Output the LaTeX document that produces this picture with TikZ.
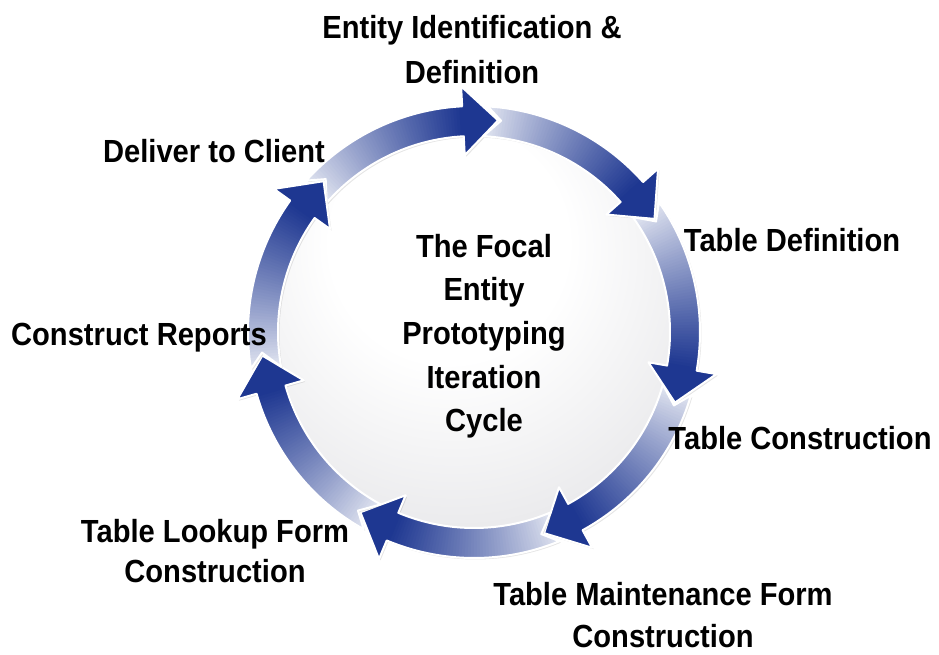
\documentclass[tikz,border=0pt]{standalone}
\usepackage{fontspec}
\newfontfamily\labfont{Liberation Sans}[FakeStretch=0.91]
\definecolor{headc}{RGB}{30,55,145}
\definecolor{tailc}{RGB}{238,240,247}
\definecolor{discgray}{RGB}{206,206,211}
\pgfdeclareradialshading{discshade}{\pgfpoint{-4bp}{14bp}}{color(0bp)=(white); color(15bp)=(white); color(58bp)=(discgray); color(75bp)=(discgray)}
\tikzset{
  lab/.style={font=\labfont\bfseries\fontsize{32}{44}\selectfont, inner sep=0pt, anchor=base, text=black},
  discnode/.style={circle, minimum size=396pt, inner sep=0pt, shading=discshade, draw=white, line width=1.5pt}
}
\begin{document}
\begin{tikzpicture}
\useasboundingbox (-474pt,-322pt) rectangle (465pt,332pt);
\fill[white] (-474pt,-322pt) rectangle (465pt,332pt);
% central disc
\node[discnode] (disc) at (0,0) {};
% arrows
\foreach \k in {0,...,6}{
  \pgfmathsetmacro\angT{83.5-51.4286*\k}
  \pgfmathsetmacro\angB{\angT+9.5}
  \pgfmathsetmacro\angS{\angT+51.4286}
  \pgfmathsetmacro\angO{\angS+3.0}
  \pgfmathsetmacro\angI{\angS+3.8}
  \pgfmathsetmacro\angN{\angS-0.8}
  \pgfmathsetmacro\stp{(\angS+5-\angB)/60}
  \def\apath{(\angO:226pt) arc[start angle=\angO, end angle=\angB, radius=226pt] -- (\angB:246pt) -- (\angT:213pt) -- (\angB:177pt) -- (\angB:196pt) arc[start angle=\angB, end angle=\angI, radius=196pt] -- (\angN:213pt) -- cycle}
  \fill[black, opacity=0.10, shift={(1.5pt,-1.5pt)}] \apath;
  \begin{scope}
    \clip \apath;
    \foreach \j in {0,...,59}{
      \pgfmathsetmacro\aa{\angS+5-\j*\stp}
      \pgfmathsetmacro\ab{\aa-\stp-0.3}
      \pgfmathsetmacro\pc{100*(\j/59)^0.85}
      \draw[line width=80pt, headc!\pc!tailc] (\aa:210pt) arc[start angle=\aa, end angle=\ab, radius=210pt];
    }
    \pgfmathsetmacro\hb{\angB+0.2}
    \pgfmathsetmacro\he{\angT-1}
    \draw[line width=80pt, headc] (\hb:210pt) arc[start angle=\hb, end angle=\he, radius=210pt];
  \end{scope}
  \draw[white, line width=2pt, line join=round] \apath;
}
% centre text
\node[lab] (c1) at (10pt,75pt) {The Focal};
\node[lab] (c2) at (10pt,32pt) {Entity};
\node[lab] (c3) at (10pt,-12pt) {Prototyping};
\node[lab] (c4) at (10pt,-56pt) {Iteration};
\node[lab] (c5) at (10pt,-99pt) {Cycle};
% labels
\node[lab] (e1) at (-2pt,293pt) {Entity Identification \&};
\node[lab] (e2) at (-2pt,249pt) {Definition};
\node[lab] (td) at (318pt,81pt) {Table Definition};
\node[lab] (tc) at (326pt,-117pt) {Table Construction};
\node[lab] (tm1) at (189pt,-273pt) {Table Maintenance Form};
\node[lab] (tm2) at (189pt,-315pt) {Construction};
\node[lab] (tl1) at (-259pt,-210pt) {Table Lookup Form};
\node[lab] (tl2) at (-259pt,-250pt) {Construction};
\node[lab] (cr) at (-335pt,-13pt) {Construct Reports};
\node[lab] (dc) at (-260pt,170pt) {Deliver to Client};
\end{tikzpicture}
\end{document}
